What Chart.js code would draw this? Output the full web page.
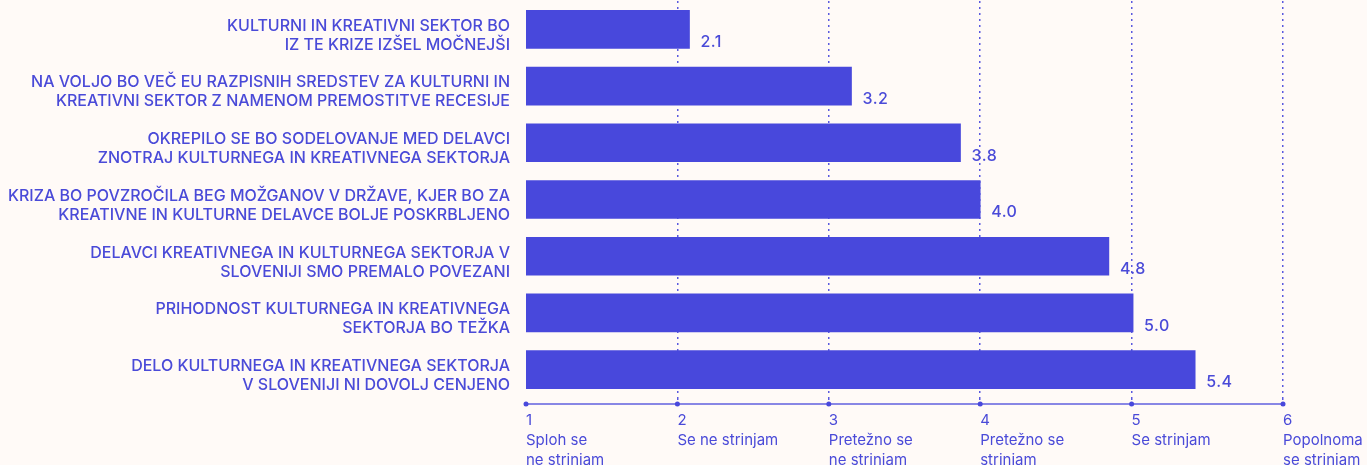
<!DOCTYPE html>
<html>
<head>
<meta charset="utf-8">
<script src="https://cdn.jsdelivr.net/npm/chart.js@4/dist/chart.umd.min.js"></script>
<style>
  html, body { margin:0; padding:0; background:#fffaf7; }
  #wrap { width:1367px; height:465px; }
</style>
</head>
<body>
<div id="wrap"><canvas id="c" width="1367" height="465"></canvas></div>
<script>
// statements, top to bottom
const categories = [
  ["KULTURNI IN KREATIVNI SEKTOR BO", "IZ TE KRIZE IZŠEL MOČNEJŠI"],
  ["NA VOLJO BO VEČ EU RAZPISNIH SREDSTEV ZA KULTURNI IN", "KREATIVNI SEKTOR Z NAMENOM PREMOSTITVE RECESIJE"],
  ["OKREPILO SE BO SODELOVANJE MED DELAVCI", "ZNOTRAJ KULTURNEGA IN KREATIVNEGA SEKTORJA"],
  ["KRIZA BO POVZROČILA BEG MOŽGANOV V DRŽAVE, KJER BO ZA", "KREATIVNE IN KULTURNE DELAVCE BOLJE POSKRBLJENO"],
  ["DELAVCI KREATIVNEGA IN KULTURNEGA SEKTORJA V", "SLOVENIJI SMO PREMALO POVEZANI"],
  ["PRIHODNOST KULTURNEGA IN KREATIVNEGA", "SEKTORJA BO TEŽKA"],
  ["DELO KULTURNEGA IN KREATIVNEGA SEKTORJA", "V SLOVENIJI NI DOVOLJ CENJENO"]
];
const values = [2.08, 3.15, 3.87, 4.0, 4.85, 5.01, 5.42];
const valueLabels = ["2.1", "3.2", "3.8", "4.0", "4.8", "5.0", "5.4"];

// scale 1..6
const scaleTicks = [1, 2, 3, 4, 5, 6];
const scaleNames = [
  ["Sploh se", "ne strinjam"],
  ["Se ne strinjam"],
  ["Pretežno se", "ne strinjam"],
  ["Pretežno se", "strinjam"],
  ["Se strinjam"],
  ["Popolnoma", "se strinjam"]
];

const BLUE = "#4848dc";
const TEXT = "#4a4ad8";
const FONT = "Inter, 'Noto Sans', sans-serif";

const valueLabelPlugin = {
  id: "valueLabels",
  afterDatasetsDraw(chart){
    const ctx = chart.ctx;
    const meta = chart.getDatasetMeta(0);
    ctx.save();
    ctx.fillStyle = TEXT;
    ctx.font = "500 16px " + FONT;
    ctx.letterSpacing = "0.5px";
    ctx.textAlign = "left";
    ctx.textBaseline = "middle";
    meta.data.forEach((bar, i)=>{
      ctx.fillText(valueLabels[i], bar.x + 11, bar.y + 13);
    });
    ctx.restore();
  }
};

// axis line a few px under the plot, with a dot at each tick
const axisPlugin = {
  id: "axisLine",
  afterDraw(chart){
    const ctx = chart.ctx;
    const xs = chart.scales.x;
    const y = chart.chartArea.bottom + 6;
    ctx.save();
    ctx.strokeStyle = "rgba(72,72,220,0.65)";
    ctx.lineWidth = 2;
    ctx.beginPath();
    ctx.moveTo(xs.getPixelForValue(1), y);
    ctx.lineTo(xs.getPixelForValue(6), y);
    ctx.stroke();
    ctx.fillStyle = BLUE;
    for (const t of scaleTicks){
      ctx.beginPath();
      ctx.arc(xs.getPixelForValue(t), y, 2.5, 0, Math.PI*2);
      ctx.fill();
    }
    ctx.restore();
  }
};

Chart.defaults.font.family = FONT;
Chart.defaults.color = TEXT;

new Chart(document.getElementById("c"), {
  type: "bar",
  data: {
    labels: categories,
    datasets: [{
      data: values,
      backgroundColor: BLUE,
      borderWidth: 0,
      barThickness: 38
    }]
  },
  options: {
    responsive: false,
    animation: false,
    indexAxis: "y",
    layout: { padding: { top: 1, left: 0, right: 0, bottom: 0 } },
    plugins: { legend: { display: false }, tooltip: { enabled: false } },
    scales: {
      x: {
        type: "linear",
        min: 1, max: 6,
        afterBuildTicks: s => { s.ticks = scaleTicks.map(v => ({ value: v })); },
        afterFit: s => { s.height = 67; s.paddingLeft = 0; s.paddingRight = 84; },
        border: { display: false, dash: [2, 4] },
        grid: {
          color: c => (c.tick && c.tick.value === 1) ? "rgba(0,0,0,0)" : "rgba(72,72,220,0.9)",
          lineWidth: 1.5,
          drawTicks: true,
          tickLength: 6,
          tickBorderDash: [2, 4]
        },
        ticks: {
          align: "start",
          padding: 6,
          maxRotation: 0,
          autoSkip: false,
          color: TEXT,
          font: { size: 15, lineHeight: "20px" },
          callback: v => [String(v)].concat(scaleNames[scaleTicks.indexOf(v)] || [])
        }
      },
      y: {
        afterFit: s => { s.width = 526; s.paddingTop = 0; s.paddingBottom = 0; },
        border: { display: false },
        grid: { display: false, drawTicks: false },
        ticks: {
          padding: 16,
          labelOffset: 6,
          autoSkip: false,
          color: TEXT,
          font: { size: 16, weight: "500", lineHeight: "19px" }
        }
      }
    }
  },
  plugins: [valueLabelPlugin, axisPlugin]
});
</script>
</body>
</html>
